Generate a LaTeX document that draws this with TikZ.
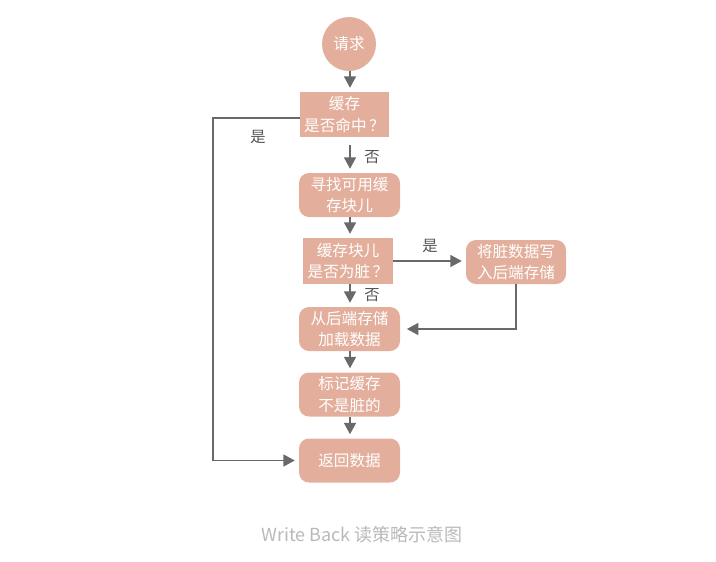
\documentclass[tikz,border=0pt]{standalone}
\usepackage{fontspec}
\setmainfont{Noto Sans CJK SC}
\usetikzlibrary{positioning,arrows.meta}
\definecolor{boxfill}{RGB}{227,175,156}
\definecolor{lineclr}{RGB}{105,105,105}
\definecolor{capclr}{RGB}{185,185,185}
\tikzset{
  flowbox/.style={fill=boxfill,text=white,align=center,inner sep=0pt,
    font=\fontsize{11.7}{16}\selectfont},
  sqbox/.style={flowbox,rectangle},
  rdbox/.style={flowbox,rectangle,rounded corners=7.5pt,minimum width=75.75pt,minimum height=33pt},
  flowarrow/.style={draw=lineclr,line width=0.9pt,-{Triangle[length=8.5pt,width=9pt]},shorten >=3pt},
  lbl/.style={text=lineclr!80!black,font=\fontsize{11.5}{13}\selectfont}
}

\begin{document}
\begin{tikzpicture}[x=0.75pt,y=-0.75pt]
  \useasboundingbox (0,0) rectangle (716,561);
  \node[flowbox,circle,minimum size=40.5pt] (req) at (349,44) {请求};
  \node[sqbox,minimum width=66.75pt,minimum height=33.75pt] (hit) at (344.5,114.5) {缓存\\是否命中\,？};
  \node[rdbox] (find) at (349.5,195) {寻找可用缓\\存块儿};
  \node[sqbox,minimum width=67.5pt,minimum height=34.5pt] (dirty) at (348,261) {缓存块儿\\是否为脏\,？};
  \node[rdbox,minimum width=75pt] (flush) at (516,262) {将脏数据写\\入后端存储};
  \node[rdbox] (load) at (349.5,329) {从后端存储\\加载数据};
  \node[rdbox] (mark) at (349.5,394.5) {标记缓存\\不是脏的};
  \node[rdbox] (ret) at (349.5,460.5) {返回数据};
  \node[text=capclr,font=\fontsize{13.5}{15}\selectfont] (cap) at (362,535) {Write Back 读策略示意图};

  \draw[flowarrow] (req.south -| 350,0) -- (hit.north -| 350,0);
  \draw[flowarrow,shorten <=6pt] (hit.south -| 350,0) -- (find.north -| 350,0);
  \draw[flowarrow] (find.south -| 350,0) -- (dirty.north -| 350,0);
  \draw[flowarrow] (dirty.south -| 350,0) -- (load.north -| 350,0);
  \draw[flowarrow] (load.south -| 350,0) -- (mark.north -| 350,0);
  \draw[flowarrow] (mark.south -| 350,0) -- (ret.north -| 350,0);
  \draw[flowarrow] (dirty.east) -- (flush.west |- dirty.east);
  \draw[flowarrow,shorten >=5pt] (flush.south) |- (load.east);
  \draw[flowarrow] (hit.west |- 0,118) -- (213,118) |- (ret.west);

  \node[lbl] (yes1) at (258,137) {是};
  \node[lbl] (no1) at (372,157) {否};
  \node[lbl] (yes2) at (430,246) {是};
  \node[lbl] (no2) at (372,295) {否};
\end{tikzpicture}
\end{document}
